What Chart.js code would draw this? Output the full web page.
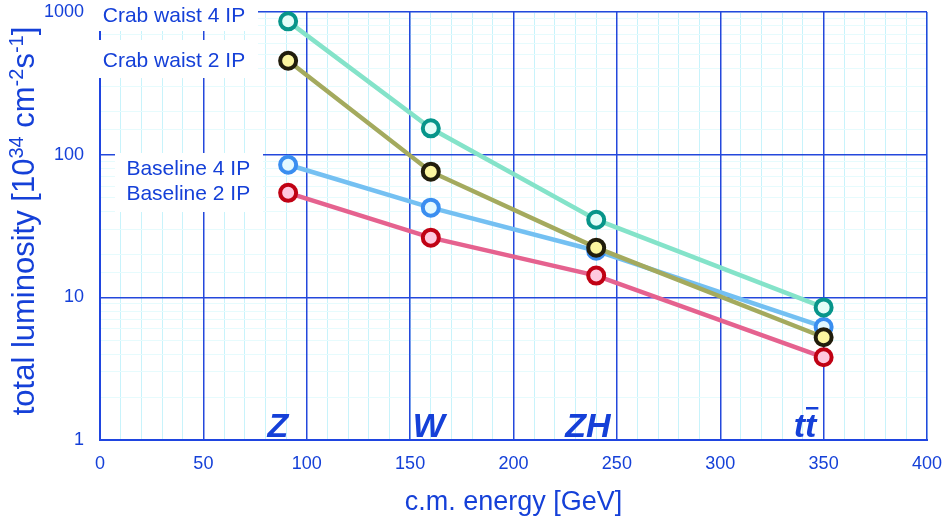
<!DOCTYPE html>
<html>
<head>
<meta charset="utf-8">
<script src="https://cdn.jsdelivr.net/npm/chart.js@4/dist/chart.umd.min.js"></script>
<style>
  html, body { margin: 0; padding: 0; background: #fff; }
  #wrap { width: 944px; height: 527px; }
</style>
</head>
<body>
<div id="wrap"><canvas id="lumi-chart"></canvas></div>
<script>
// values
const energies = [91, 160, 240, 350];
const crabWaist4 = [860, 153, 35, 8.5];
const crabWaist2 = [455, 76, 22.3, 5.25];
const baseline4 = [85, 42.5, 21.2, 6.2];
const baseline2 = [54, 26.2, 14.2, 3.8];

const processLabels = ["Z", "W", "ZH", "tt"];
const processEnergies = [86, 159, 236, 341];
const yTickLabels = [1, 10, 100, 1000];
const xTickLabels = [0, 50, 100, 150, 200, 250, 300, 350, 400];

const blue = "#1540d8";
const gridBlue = "#2448dc";
const font = "'Liberation Sans', Arial, sans-serif";

function points(values) {
  return energies.map((e, i) => ({ x: e, y: values[i] }));
}

function isDecade(v) {
  const lg = Math.log10(v);
  return Math.abs(lg - Math.round(lg)) < 1e-9;
}

// y title with real superscripts
const yTitlePlugin = {
  id: "yTitle",
  afterDraw(chart) {
    const ctx = chart.ctx;
    const parts = [
      ["total luminosity [10", false],
      ["34", true],
      [" cm", false],
      ["-2", true],
      ["s", false],
      ["-1", true],
      ["]", false],
    ];
    const big = "31px " + font;
    const small = "20px " + font;
    ctx.save();
    let total = 0;
    parts.forEach(([t, sup]) => {
      ctx.font = sup ? small : big;
      total += ctx.measureText(t).width;
    });
    ctx.translate(34, 221);
    ctx.rotate(-Math.PI / 2);
    ctx.fillStyle = blue;
    ctx.textBaseline = "alphabetic";
    ctx.textAlign = "left";
    let x = -total / 2;
    parts.forEach(([t, sup]) => {
      ctx.font = sup ? small : big;
      ctx.fillText(t, x, sup ? -11 : 0);
      x += ctx.measureText(t).width;
    });
    ctx.restore();
  },
};

// white boxes + series names next to the first points
const labelPlugin = {
  id: "seriesLabels",
  beforeDatasetsDraw(chart) {
    const ctx = chart.ctx;
    ctx.save();
    ctx.fillStyle = "#fff";
    ctx.fillRect(94, 0, 164, 31);
    ctx.fillRect(94, 40, 164, 38);
    ctx.fillRect(115, 153, 148, 59);
    ctx.restore();
  },
  afterDatasetsDraw(chart) {
    const ctx = chart.ctx;
    const x = chart.scales.x;
    const y = chart.scales.y;
    ctx.save();
    ctx.fillStyle = blue;
    ctx.font = "21px " + font;
    ctx.textAlign = "right";
    ctx.textBaseline = "middle";
    const offsets = [-5, 0, 4, 1];
    chart.data.datasets.forEach((ds, i) => {
      const px = x.getPixelForValue(ds.data[0].x) - (i < 2 ? 43 : 38);
      const py = Math.max(14, y.getPixelForValue(ds.data[0].y) + offsets[i]);
      ctx.fillText(ds.label, px, py);
    });

    // process names along the bottom
    ctx.font = "italic bold 34px " + font;
    ctx.textAlign = "center";
    ctx.textBaseline = "alphabetic";
    processLabels.forEach((lab, i) => {
      const cx = x.getPixelForValue(processEnergies[i]);
      const by = y.bottom - 3;
      ctx.fillText(lab, cx, by);
      if (lab === "tt") {
        const w = ctx.measureText(lab).width;
        const tw = ctx.measureText("t").width;
        ctx.fillRect(cx + w / 2 - tw + 1, by - 30, tw + 1, 2.5);
      }
    });
    ctx.restore();
  },
};

function noPad(s) {
  s.paddingTop = 0;
  s.paddingBottom = 0;
  s.paddingLeft = 0;
  s.paddingRight = 0;
}

new Chart(document.getElementById("lumi-chart"), {
  type: "scatter",
  data: {
    datasets: [
      {
        label: "Crab waist 4 IP",
        data: points(crabWaist4),
        borderColor: "#84e3c9",
        pointBorderColor: "#07958a",
        pointBackgroundColor: "#e3fdf8",
      },
      {
        label: "Crab waist 2 IP",
        data: points(crabWaist2),
        borderColor: "#a4aa5e",
        pointBorderColor: "#211d0c",
        pointBackgroundColor: "#fcf6a0",
      },
      {
        label: "Baseline 4 IP",
        data: points(baseline4),
        borderColor: "#74c0f2",
        pointBorderColor: "#3a8ef0",
        pointBackgroundColor: "#e3f9ff",
      },
      {
        label: "Baseline 2 IP",
        data: points(baseline2),
        borderColor: "#e5628f",
        pointBorderColor: "#c00214",
        pointBackgroundColor: "#ffc9df",
      },
    ].map((d) => ({
      ...d,
      showLine: true,
      borderWidth: 4.5,
      pointRadius: 8,
      pointHoverRadius: 8,
      pointBorderWidth: 4,
      clip: false,
    })),
  },
  options: {
    responsive: true,
    maintainAspectRatio: false,
    animation: false,
    layout: { padding: { top: 10, right: 17, left: 0, bottom: 0 } },
    plugins: {
      legend: { display: false },
      tooltip: { enabled: false },
    },
    scales: {
      x: {
        type: "linear",
        min: 0,
        max: 400,
        afterFit: (s) => { s.height = 87; noPad(s); },
        ticks: {
          stepSize: 10,
          autoSkip: false,
          maxRotation: 0,
          padding: 13,
          color: blue,
          font: { family: font, size: 18 },
          callback: (v) => (xTickLabels.includes(v) ? v : ""),
        },
        grid: { color: "#c8f3fb", drawTicks: false, z: -1 },
        border: { color: "#1f45e0", width: 2 },
        title: {
          display: true,
          text: "c.m. energy [GeV]",
          color: blue,
          font: { family: font, size: 27 },
          padding: { top: 0, bottom: 8 },
        },
      },
      y: {
        type: "logarithmic",
        min: 1,
        max: 1000,
        afterFit: (s) => { s.width = 100; noPad(s); },
        ticks: {
          autoSkip: false,
          padding: 16,
          color: blue,
          font: { family: font, size: 18 },
          callback: (v) => (yTickLabels.includes(v) ? String(v) : ""),
        },
        grid: { color: "#e6fbfd", drawTicks: false, z: -1 },
        border: { color: "#1f45e0", width: 2 },
      },
      // major grid lines drawn above the minor ones
      xMajor: {
        type: "linear",
        position: "bottom",
        min: 0,
        max: 400,
        afterFit: (s) => { s.height = 0; noPad(s); },
        ticks: { display: false, stepSize: 50 },
        grid: { color: gridBlue, lineWidth: 1.5, drawTicks: false },
        border: { display: false },
      },
      yMajor: {
        type: "logarithmic",
        position: "left",
        min: 1,
        max: 1000,
        afterFit: (s) => { s.width = 0; noPad(s); },
        ticks: { display: false, autoSkip: false },
        grid: {
          color: (c) => (c.tick && isDecade(c.tick.value) ? gridBlue : "rgba(0,0,0,0)"),
          lineWidth: 1.5,
          drawTicks: false,
        },
        border: { display: false },
      },
    },
  },
  plugins: [labelPlugin, yTitlePlugin],
});
</script>
</body>
</html>
